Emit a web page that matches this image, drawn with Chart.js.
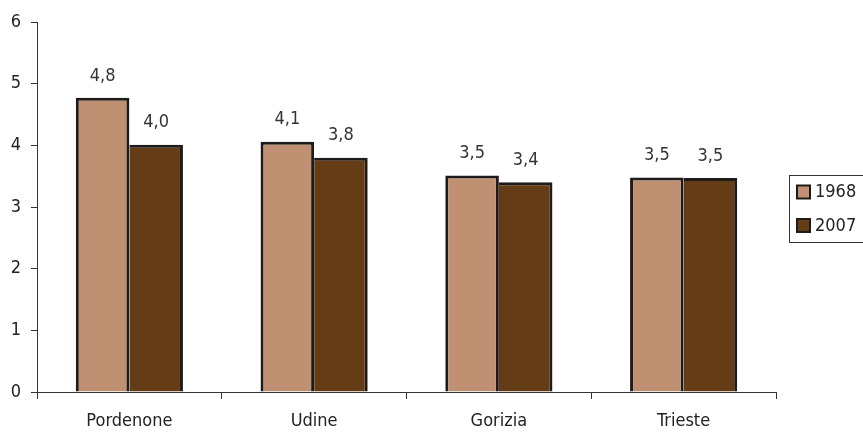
<!DOCTYPE html>
<html><head><meta charset="utf-8">
<script src="https://cdn.jsdelivr.net/npm/chart.js@4/dist/chart.umd.min.js"></script>
<style>html,body{margin:0;padding:0;background:#fff}#wrap{width:863px;height:432px}</style>
</head><body><div id="wrap"><canvas id="c" width="863" height="432"></canvas></div>
<script>
const categories = ["Pordenone", "Udine", "Gorizia", "Trieste"];
const series1968 = [4.77, 4.06, 3.51, 3.48];
const series2007 = [4.01, 3.80, 3.40, 3.47];
const labels1968 = ["4,8", "4,1", "3,5", "3,5"];
const labels2007 = ["4,0", "3,8", "3,4", "3,5"];
const seriesNames = ["1968", "2007"];
const yTicks = [0, 1, 2, 3, 4, 5, 6];

const FONT = '"Liberation Sans Narrow", "DejaVu Sans Condensed", "Arial Narrow", sans-serif';
const C1 = '#BF9172', C2 = '#643C16', EDGE = '#1E1B1A';

const valueLabels = {
  id: 'valueLabels',
  afterDatasetsDraw(chart) {
    const ctx = chart.ctx;
    const texts = [labels1968, labels2007];
    ctx.save();
    ctx.font = '18px ' + FONT;
    ctx.fillStyle = '#333';
    ctx.textAlign = 'center';
    ctx.textBaseline = 'middle';
    chart.data.datasets.forEach((ds, di) => {
      chart.getDatasetMeta(di).data.forEach((bar, i) => {
        ctx.fillText(texts[di][i], bar.x, bar.y - 22);
      });
    });
    ctx.restore();
  }
};

const boxLegend = {
  id: 'boxLegend',
  afterDraw(chart) {
    const ctx = chart.ctx;
    const x = 789, y = 175, w = 80, h = 67;
    ctx.save();
    ctx.strokeStyle = '#333';
    ctx.lineWidth = 1;
    ctx.strokeRect(x + 0.5, y + 0.5, w, h);
    ctx.font = '18px ' + FONT;
    ctx.textBaseline = 'middle';
    ctx.textAlign = 'left';
    chart.data.datasets.forEach((ds, i) => {
      const cy = y + 16.5 + i * 33.5;
      ctx.fillStyle = ds.backgroundColor;
      ctx.fillRect(797, cy - 6, 13, 13);
      ctx.strokeStyle = EDGE;
      ctx.lineWidth = 2;
      ctx.strokeRect(797, cy - 6, 13, 13);
      ctx.fillStyle = '#222';
      ctx.fillText(ds.label, 815, cy + 1);
    });
    ctx.restore();
  }
};

new Chart(document.getElementById('c'), {
  type: 'bar',
  data: {
    labels: categories,
    datasets: [
      { label: seriesNames[0], data: series1968, backgroundColor: C1, borderColor: EDGE,
        borderWidth: { top: 3, left: 3, right: 3, bottom: 0 } },
      { label: seriesNames[1], data: series2007, backgroundColor: C2, borderColor: EDGE,
        borderWidth: { top: 3, left: 0, right: 3, bottom: 0 } }
    ]
  },
  options: {
    responsive: false,
    animation: false,
    devicePixelRatio: 1,
    layout: { padding: { top: 22, right: 87, bottom: 0, left: 0 } },
    datasets: { bar: { categoryPercentage: 0.58, barPercentage: 1.0 } },
    plugins: { legend: { display: false }, tooltip: { enabled: false } },
    scales: {
      x: {
        grid: { offset: true, drawOnChartArea: false, drawTicks: true, tickLength: 7, color: '#333', lineWidth: 1 },
        border: { display: true, color: '#333', width: 1 },
        ticks: { color: '#222', font: { size: 18, family: FONT }, padding: 12 },
        afterFit(s) { s.height = 40; }
      },
      y: {
        min: 0, max: 6,
        afterBuildTicks(s) { s.ticks = yTicks.map(v => ({ value: v })); },
        grid: { drawOnChartArea: false, drawTicks: true, tickLength: 6, color: '#333', lineWidth: 1 },
        border: { display: true, color: '#333', width: 1 },
        ticks: { color: '#222', font: { size: 18, family: FONT }, padding: 10 },
        afterFit(s) { s.width = 37; }
      }
    }
  },
  plugins: [valueLabels, boxLegend]
});
</script></body></html>
